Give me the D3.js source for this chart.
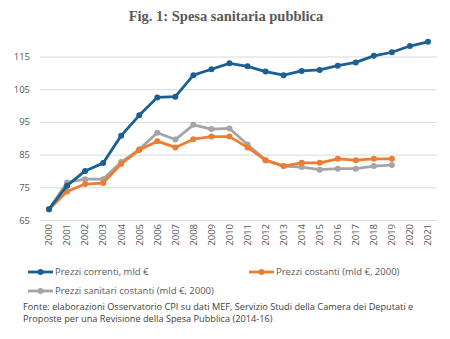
<!DOCTYPE html>
<html><head><meta charset="utf-8">
<script src="https://cdn.jsdelivr.net/npm/d3@7"></script>
<style>body{margin:0;background:#fff}svg{display:block}</style>
</head><body>
<svg id="c" width="450" height="339"></svg>
<script>
const years = ["2000","2001","2002","2003","2004","2005","2006","2007","2008","2009","2010","2011","2012","2013","2014","2015","2016","2017","2018","2019","2020","2021"];
const correnti = [68.3,75.5,80.0,82.4,90.8,97.0,102.5,102.7,109.3,111.1,112.9,112.0,110.4,109.3,110.6,110.9,112.2,113.2,115.2,116.3,118.2,119.5];
const costanti = [68.3,73.7,76.0,76.3,82.2,86.4,89.1,87.2,89.7,90.5,90.5,87.2,83.3,81.5,82.5,82.5,83.7,83.3,83.7,83.7];
const sanitari = [68.3,76.5,77.5,77.5,82.7,86.6,91.7,89.6,94.1,92.8,93.0,88.1,83.3,81.5,81.2,80.4,80.7,80.7,81.5,81.8];
const yTicks = [65,75,85,95,105,115];
const seriesNames = ["Prezzi correnti, mld €","Prezzi costanti (mld €, 2000)","Prezzi sanitari costanti (mld €, 2000)"];
const colors = ["#1b5f93","#ed7d31","#a5a5a5"];
const titleText = "Fig. 1: Spesa sanitaria pubblica";
const sourceLines = ["Fonte: elaborazioni Osservatorio CPI su dati MEF, Servizio Studi della Camera dei Deputati e","Proposte per una Revisione della Spesa Pubblica (2014-16)"];

const svg = d3.select("#c");
const x = d3.scaleBand().domain(years).range([40,437]);
const y = d3.scaleLinear().domain([65,125]).range([220,23.8]);

svg.append("text").attr("x",226).attr("y",21).attr("text-anchor","middle")
  .attr("font-family","Liberation Serif, serif").attr("font-weight","bold").attr("font-size",14.5)
  .attr("fill","#595959").text(titleText);

const yAxis = d3.axisLeft(y).tickValues(yTicks).tickSize(-(437-40)).tickPadding(10);
const gy = svg.append("g").attr("transform","translate(40,0)").call(yAxis);
gy.select(".domain").remove();
gy.selectAll(".tick line").attr("stroke","#d9d9d9").attr("stroke-width",1);
gy.selectAll(".tick text").attr("font-family","Open Sans, sans-serif").attr("font-size",9.5).attr("fill","#595959").attr("x",-10);

const xAxis = d3.axisBottom(x).tickSize(0).tickPadding(0);
const gx = svg.append("g").attr("transform","translate(0,220)").call(xAxis);
gx.select(".domain").remove();
gx.selectAll(".tick text").attr("font-family","Open Sans, sans-serif").attr("font-size",9.5).attr("fill","#595959")
  .attr("transform","rotate(-90)").attr("text-anchor","end").attr("x",-4).attr("y",0).attr("dy","0.35em");

const data = [correnti, costanti, sanitari];
const order = [2,1,0];
order.forEach(i=>{
  const vals = data[i].map((v,j)=>({yr:years[j],v}));
  const line = d3.line().x(d=>x(d.yr)+x.bandwidth()/2).y(d=>y(d.v));
  svg.append("path").datum(vals).attr("d",line).attr("fill","none").attr("stroke",colors[i]).attr("stroke-width",2.8).attr("stroke-linejoin","round");
  svg.append("g").selectAll("circle").data(vals).join("circle")
    .attr("cx",d=>x(d.yr)+x.bandwidth()/2).attr("cy",d=>y(d.v)).attr("r",3).attr("fill",colors[i]);
});

const legPos = [[28,272],[249,272],[28,291]];
seriesNames.forEach((n,i)=>{
  const [lx,ly] = legPos[i];
  svg.append("line").attr("x1",lx).attr("x2",lx+25).attr("y1",ly).attr("y2",ly).attr("stroke",colors[i]).attr("stroke-width",2.8);
  svg.append("circle").attr("cx",lx+12.5).attr("cy",ly).attr("r",3).attr("fill",colors[i]);
  svg.append("text").attr("x",lx+27).attr("y",ly).attr("dy","0.35em").attr("font-family","Open Sans, sans-serif").attr("font-size",9.5).attr("fill","#595959").text(n);
});

sourceLines.forEach((t,i)=>{
  svg.append("text").attr("x",23).attr("y",310+i*12).attr("font-family","Open Sans, sans-serif").attr("font-size",9.2).attr("fill","#404040").text(t);
});
</script>
</body></html>
